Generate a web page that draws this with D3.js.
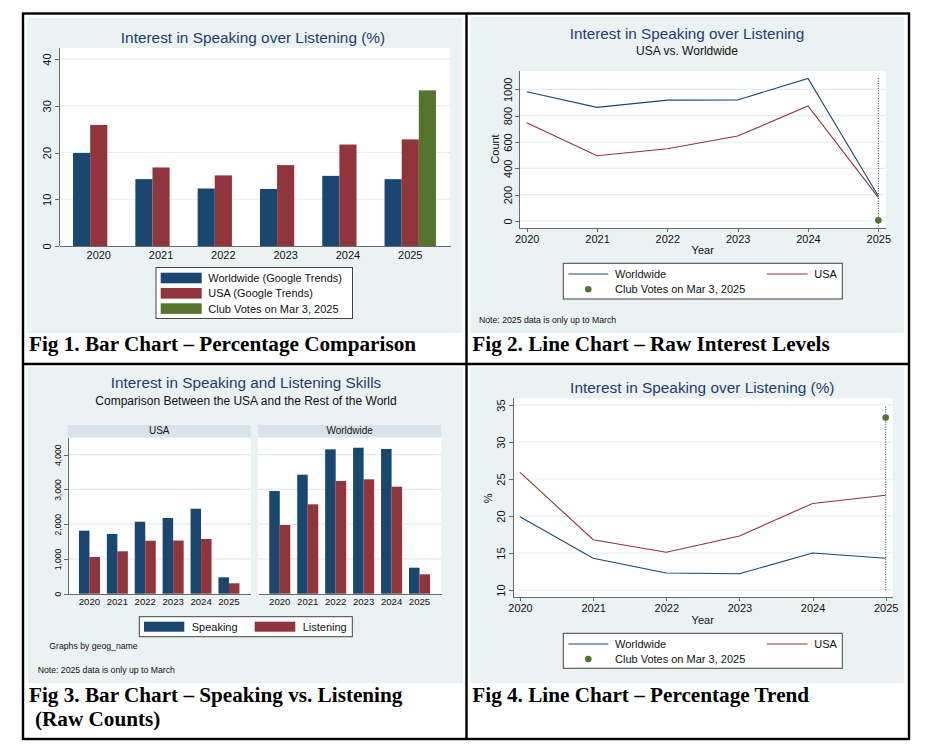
<!DOCTYPE html>
<html>
<head>
<meta charset="utf-8">
<script src="https://cdn.jsdelivr.net/npm/d3@7"></script>
<style>
  html, body { margin: 0; padding: 0; background: #ffffff; }
  svg { display: block; }
  .axis path, .axis line { stroke: #6a6a6a; stroke-width: 1; shape-rendering: crispEdges; }
  .axis text { fill: #111; font-family: "Liberation Sans", Arial, sans-serif; }
</style>
</head>
<body>
<svg id="chart" width="926" height="754"></svg>
<script>
// ---------------- DATA ----------------
const years = [2020, 2021, 2022, 2023, 2024, 2025];

// Percentage (speaking over listening)
const pctWorldwide = [19.9, 14.3, 12.3, 12.2, 15.0, 14.3];
const pctUSA       = [25.9, 16.8, 15.1, 17.3, 21.7, 22.8];
const clubYear = 2025;
const clubPct = 33.3;

// Raw counts (speaking over listening)
const countWorldwide = [981, 863, 918, 919, 1083, 190];
const countUSA       = [746, 496, 549, 645, 873, 180];
const clubCount = 6;

// Speaking vs listening raw counts
const usaSpeaking  = [1813, 1718, 2072, 2178, 2446, 472];
const usaListening = [1056, 1220, 1525, 1530, 1574, 299];
const wwSpeaking   = [2955, 3425, 4155, 4201, 4164, 748];
const wwListening  = [1977, 2572, 3243, 3292, 3079, 558];

// Tick labels
const fig1Ticks = [0, 10, 20, 30, 40];
const fig2Ticks = [0, 200, 400, 600, 800, 1000];
const fig3Ticks = [0, 1000, 2000, 3000, 4000];
const fig4Ticks = [10, 15, 20, 25, 30, 35];

// Text
const captions = [
  "Fig 1. Bar Chart \u2013 Percentage Comparison",
  "Fig 2. Line Chart \u2013 Raw Interest Levels",
  "Fig 3. Bar Chart \u2013 Speaking vs. Listening",
  "(Raw Counts)",
  "Fig 4. Line Chart \u2013 Percentage Trend"
];

// ---------------- STYLE ----------------
const C = {
  navy: "#1a476f", maroon: "#90353b", green: "#55752f",
  bg: "#eaf2f3", grid: "#e4ecee", title: "#1f3c70", strip: "#d9e4ea"
};
const SANS = "'Liberation Sans', Arial, Helvetica, sans-serif";
const SERIF = "'Liberation Serif', 'Times New Roman', serif";

const svg = d3.select("#chart");
svg.append("rect").attr("width", 926).attr("height", 754).attr("fill", "#fff");

// panel backgrounds
const panels = [
  {x: 27, y: 18, w: 435, h: 315},
  {x: 470, y: 17, w: 434, h: 316},
  {x: 28, y: 367, w: 435, h: 316},
  {x: 470, y: 367, w: 434, h: 316}
];
panels.forEach(p => svg.append("rect").attr("x", p.x).attr("y", p.y)
  .attr("width", p.w).attr("height", p.h).attr("fill", C.bg));

function text(x, y, str, opts = {}) {
  return svg.append("text").attr("x", x).attr("y", y).text(str)
    .attr("font-family", opts.family || SANS)
    .attr("font-size", opts.size || 11)
    .attr("font-weight", opts.weight || "normal")
    .attr("fill", opts.fill || "#111")
    .attr("text-anchor", opts.anchor || "start");
}

function plotRect(x, y, w, h) {
  svg.append("rect").attr("x", x).attr("y", y).attr("width", w).attr("height", h).attr("fill", "#fff");
}

function gridlines(y, ticks, x0, x1) {
  svg.append("g").selectAll("line").data(ticks).join("line")
    .attr("x1", x0).attr("x2", x1)
    .attr("y1", d => y(d)).attr("y2", d => y(d))
    .attr("stroke", C.grid).attr("stroke-width", 1.2);
}

function yAxis(y, ticks, xPos, fmt, size, off) {
  const g = svg.append("g").attr("class", "axis").attr("transform", `translate(${xPos},0)`)
    .call(d3.axisLeft(y).tickValues(ticks).tickFormat(fmt).tickSize(4).tickSizeOuter(0));
  g.selectAll(".tick text")
    .attr("x", 0).attr("dy", 0)
    .attr("text-anchor", "middle")
    .attr("font-size", size)
    .attr("transform", `translate(${-off},0) rotate(-90)`);
  return g;
}

function fixDomainY(g, yTop, yBot) {
  g.select(".domain").attr("d", `M0.5,${yTop}V${yBot}`);
}

// ================= FIG 1 =================
(function () {
  const L = 59, R = 450, T = 48, B = 246;
  plotRect(L, T, R - L, B - T);
  const y = d3.scaleLinear().domain([0, 40]).range([246, 59]);
  const x = d3.scaleBand().domain(years).range([L, R]).paddingInner(0.175).paddingOuter(0.2255);
  const inner = d3.scaleBand().domain(["ww", "usa", "club"]).range([0, x.bandwidth()]);
  gridlines(y, fig1Ticks.slice(1), L, R);

  const rows = years.map((yr, i) => ({yr, ww: pctWorldwide[i], usa: pctUSA[i], club: yr === clubYear ? clubPct : null}));
  const colors = {ww: C.navy, usa: C.maroon, club: C.green};
  const g = svg.append("g");
  ["ww", "usa", "club"].forEach(k => {
    g.selectAll(null).data(rows.filter(r => r[k] != null)).join("rect")
      .attr("x", d => x(d.yr) + inner(k))
      .attr("width", inner.bandwidth())
      .attr("y", d => y(d[k]))
      .attr("height", d => y(0) - y(d[k]))
      .attr("fill", colors[k]);
  });

  const ya = yAxis(y, fig1Ticks, L, d3.format("d"), 11, 8);
  fixDomainY(ya, T, B);
  const xa = svg.append("g").attr("class", "axis").attr("transform", `translate(0,${B})`)
    .call(d3.axisBottom(x).tickSize(0).tickPadding(5).tickSizeOuter(0));
  xa.selectAll("text").attr("font-size", 11);

  text(253, 43, "Interest in Speaking over Listening (%)", {size: 15.4, fill: C.title, anchor: "middle"});

  // legend
  svg.append("rect").attr("x", 156).attr("y", 267.5).attr("width", 196.5).attr("height", 51)
    .attr("fill", "#fff").attr("stroke", "#444").attr("stroke-width", 1);
  const leg = [["Worldwide (Google Trends)", C.navy], ["USA (Google Trends)", C.maroon], ["Club Votes on Mar 3, 2025", C.green]];
  leg.forEach((d, i) => {
    const cy = 278 + i * 15.3;
    svg.append("rect").attr("x", 160.7).attr("y", cy - 5.3).attr("width", 41).attr("height", 10.6).attr("fill", d[1]);
    text(208.3, cy + 4, d[0], {size: 11});
  });
})();

// ================= FIG 2 =================
(function () {
  const L = 519.3, R = 885.7, T = 71, B = 228.3;
  plotRect(L, T, R - L, B - T);
  const y = d3.scaleLinear().domain([0, 1000]).range([221, 89.3]);
  const x = d3.scaleLinear().domain([2020, 2025]).range([526.7, 878.3]);
  gridlines(y, fig2Ticks, L, R);

  svg.append("line").attr("x1", x(clubYear)).attr("x2", x(clubYear)).attr("y1", 78).attr("y2", 226.7)
    .attr("stroke", "#333").attr("stroke-width", 1).attr("stroke-dasharray", "1,1.5");

  const line = d3.line().x((d, i) => x(years[i])).y(d => y(d));
  svg.append("path").attr("d", line(countWorldwide)).attr("fill", "none").attr("stroke", C.navy).attr("stroke-width", 1.1);
  svg.append("path").attr("d", line(countUSA)).attr("fill", "none").attr("stroke", C.maroon).attr("stroke-width", 1.1);
  svg.append("circle").attr("cx", x(clubYear)).attr("cy", y(clubCount)).attr("r", 3.3).attr("fill", C.green);

  const ya = yAxis(y, fig2Ticks, L, d3.format("d"), 11, 7.6);
  fixDomainY(ya, T, B);
  const xa = svg.append("g").attr("class", "axis").attr("transform", `translate(0,${B})`)
    .call(d3.axisBottom(x).tickValues(years).tickFormat(d3.format("d")).tickSize(4).tickSizeOuter(0));
  xa.select(".domain").attr("d", `M${L},0.5H${R}`);
  xa.selectAll("text").attr("font-size", 11);

  text(702.7, 254.3, "Year", {size: 11, anchor: "middle"});
  svg.append("text").attr("transform", "translate(499,149) rotate(-90)").attr("text-anchor", "middle")
    .attr("font-family", SANS).attr("font-size", 11).attr("fill", "#111").text("Count");

  text(687, 39.3, "Interest in Speaking over Listening", {size: 15.3, fill: C.title, anchor: "middle"});
  text(687, 55, "USA vs. Worldwide", {size: 12, anchor: "middle"});

  // legend
  svg.append("rect").attr("x", 563.3).attr("y", 263.3).attr("width", 279).attr("height", 35.7)
    .attr("fill", "#fff").attr("stroke", "#444").attr("stroke-width", 1);
  svg.append("line").attr("x1", 568.3).attr("x2", 608.3).attr("y1", 274).attr("y2", 274).attr("stroke", C.navy).attr("stroke-width", 1.1);
  text(615, 278, "Worldwide", {size: 11});
  svg.append("line").attr("x1", 766.7).attr("x2", 807.7).attr("y1", 274).attr("y2", 274).attr("stroke", C.maroon).attr("stroke-width", 1.1);
  text(814.3, 278, "USA", {size: 11});
  svg.append("circle").attr("cx", 588.3).attr("cy", 289.3).attr("r", 3.3).attr("fill", C.green);
  text(615, 293.3, "Club Votes on Mar 3, 2025", {size: 11});

  text(479, 322.7, "Note: 2025 data is only up to March", {size: 8.7});
})();

// ================= FIG 3 =================
(function () {
  const T = 437.7, B = 593.7;
  const y = d3.scaleLinear().domain([0, 4000]).range([593.7, 454.7]);
  const facets = [
    {name: "USA", L: 67.7, R: 250.7, s: usaSpeaking, l: usaListening},
    {name: "Worldwide", L: 258, R: 441.3, s: wwSpeaking, l: wwListening}
  ];
  facets.forEach((f, fi) => {
    svg.append("rect").attr("x", f.L).attr("y", 425).attr("width", f.R - f.L).attr("height", T - 425).attr("fill", C.strip);
    text((f.L + f.R) / 2, 434.3, f.name, {size: 10, anchor: "middle"});
    plotRect(f.L, T, f.R - f.L, B - T);
    gridlines(y, fig3Ticks.slice(1), f.L, f.R);
    const x = d3.scaleBand().domain(years).range([f.L, f.R]).paddingInner(0.247).paddingOuter(0.403);
    const inner = d3.scaleBand().domain(["s", "l"]).range([0, x.bandwidth()]);
    const rows = years.map((yr, i) => ({yr, s: f.s[i], l: f.l[i]}));
    const colors = {s: C.navy, l: C.maroon};
    ["s", "l"].forEach(k => {
      svg.append("g").selectAll("rect").data(rows).join("rect")
        .attr("x", d => x(d.yr) + inner(k))
        .attr("width", inner.bandwidth())
        .attr("y", d => y(d[k]))
        .attr("height", d => y(0) - y(d[k]))
        .attr("fill", colors[k]);
    });
    const xa = svg.append("g").attr("class", "axis").attr("transform", `translate(0,${B})`)
      .call(d3.axisBottom(x).tickSize(0).tickPadding(4).tickSizeOuter(0));
    xa.selectAll("text").attr("font-size", 9.6);
    if (fi === 0) {
      const ya = yAxis(y, fig3Ticks, f.L, d3.format(","), 8.6, 7);
      fixDomainY(ya, T, B);
    }
  });

  text(246, 388.3, "Interest in Speaking and Listening Skills", {size: 15.3, fill: C.title, anchor: "middle"});
  text(246, 405, "Comparison Between the USA and the Rest of the World", {size: 12, anchor: "middle"});

  svg.append("rect").attr("x", 139.3).attr("y", 616.7).attr("width", 213).attr("height", 20)
    .attr("fill", "#fff").attr("stroke", "#444").attr("stroke-width", 1);
  svg.append("rect").attr("x", 144).attr("y", 621.7).attr("width", 40.3).attr("height", 10).attr("fill", C.navy);
  text(191.7, 630.7, "Speaking", {size: 11});
  svg.append("rect").attr("x", 254.7).attr("y", 621.7).attr("width", 40.6).attr("height", 10).attr("fill", C.maroon);
  text(302.7, 630.7, "Listening", {size: 11});

  text(49.3, 649, "Graphs by geog_name", {size: 8.7});
  text(37.7, 672.7, "Note: 2025 data is only up to March", {size: 8.7});
})();

// ================= FIG 4 =================
(function () {
  const L = 513.3, R = 892.7, T = 398.3, B = 597.3;
  plotRect(L, T, R - L, B - T);
  const y = d3.scaleLinear().domain([10, 35]).range([590, 405]);
  const x = d3.scaleLinear().domain([2020, 2025]).range([520, 885.7]);
  gridlines(y, fig4Ticks, L, R);

  svg.append("line").attr("x1", x(clubYear)).attr("x2", x(clubYear)).attr("y1", 406.7).attr("y2", 591)
    .attr("stroke", "#333").attr("stroke-width", 1).attr("stroke-dasharray", "1,1.5");

  const line = d3.line().x((d, i) => x(years[i])).y(d => y(d));
  svg.append("path").attr("d", line(pctWorldwide)).attr("fill", "none").attr("stroke", C.navy).attr("stroke-width", 1.1);
  svg.append("path").attr("d", line(pctUSA)).attr("fill", "none").attr("stroke", C.maroon).attr("stroke-width", 1.1);
  svg.append("circle").attr("cx", x(clubYear)).attr("cy", y(clubPct)).attr("r", 3.3).attr("fill", C.green);

  const ya = yAxis(y, fig4Ticks, L, d3.format("d"), 11, 8);
  fixDomainY(ya, T, B);
  const xa = svg.append("g").attr("class", "axis").attr("transform", `translate(0,${B})`)
    .call(d3.axisBottom(x).tickValues(years).tickFormat(d3.format("d")).tickSize(4).tickSizeOuter(0));
  xa.select(".domain").attr("d", `M${L},0.5H${R}`);
  xa.selectAll("text").attr("font-size", 11);

  text(702.7, 624.3, "Year", {size: 11, anchor: "middle"});
  svg.append("text").attr("transform", "translate(492,498.3) rotate(-90)").attr("text-anchor", "middle")
    .attr("font-family", SANS).attr("font-size", 11).attr("fill", "#111").text("%");

  text(702.3, 393.3, "Interest in Speaking over Listening (%)", {size: 15.4, fill: C.title, anchor: "middle"});

  svg.append("rect").attr("x", 563.3).attr("y", 633.3).attr("width", 279).attr("height", 35)
    .attr("fill", "#fff").attr("stroke", "#444").attr("stroke-width", 1);
  svg.append("line").attr("x1", 568.3).attr("x2", 608.3).attr("y1", 644).attr("y2", 644).attr("stroke", C.navy).attr("stroke-width", 1.1);
  text(615, 648, "Worldwide", {size: 11});
  svg.append("line").attr("x1", 766.7).attr("x2", 807.7).attr("y1", 644).attr("y2", 644).attr("stroke", C.maroon).attr("stroke-width", 1.1);
  text(814.3, 648, "USA", {size: 11});
  svg.append("circle").attr("cx", 588.3).attr("cy", 659).attr("r", 3.3).attr("fill", C.green);
  text(615, 663, "Club Votes on Mar 3, 2025", {size: 11});
})();

// ================= CAPTIONS & TABLE BORDERS =================
const CAP = {family: SERIF, size: 21.2, weight: "bold", fill: "#000"};
text(29, 351, captions[0], CAP);
text(472.3, 351, captions[1], CAP);
text(29, 701.7, captions[2], CAP);
text(35, 726, captions[3], CAP);
text(472.3, 701.7, captions[4], CAP);

const border = svg.append("g").attr("stroke", "#000").attr("stroke-width", 2.4).attr("fill", "none");
border.append("rect").attr("x", 23).attr("y", 13.5).attr("width", 886).attr("height", 725.5);
border.append("line").attr("x1", 466.5).attr("x2", 466.5).attr("y1", 13.5).attr("y2", 739);
border.append("line").attr("x1", 23).attr("x2", 909).attr("y1", 364).attr("y2", 364);
</script>
</body>
</html>
